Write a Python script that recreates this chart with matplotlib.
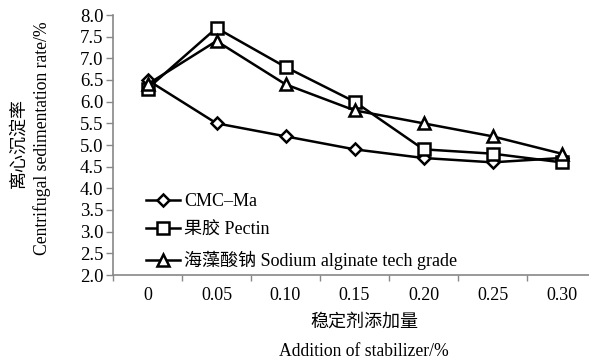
import matplotlib
matplotlib.use("Agg")
import matplotlib.pyplot as plt

# Stabilizer addition levels (%) and centrifugal sedimentation rate (%)
categories = ["0", "0.05", "0.10", "0.15", "0.20", "0.25", "0.30"]
cmc = [6.5, 5.5, 5.2, 4.9, 4.7, 4.6, 4.7]
pectin = [6.3, 7.7, 6.8, 6.0, 4.9, 4.8, 4.6]
alginate = [6.4, 7.4, 6.4, 5.8, 5.5, 5.2, 4.8]
series_labels = ["CMC–Ma", "果胶 Pectin", "海藻酸钠 Sodium alginate tech grade"]
yticks = [2.0, 2.5, 3.0, 3.5, 4.0, 4.5, 5.0, 5.5, 6.0, 6.5, 7.0, 7.5, 8.0]

FAM = ["Liberation Serif", "Noto Sans CJK SC"]
plt.rcParams["font.family"] = FAM

W, H = 589, 359
fig = plt.figure(figsize=(W / 100, H / 100), dpi=100)
left, right, bottom, top = 113, 596, 275, 15
ax = fig.add_axes([left / W, 1 - bottom / H, (right - left) / W, (bottom - top) / H])

x = list(range(len(categories)))
style = dict(color="black", lw=1.8, mfc="white", mec="black", mew=1.8)
ax.plot(x, cmc, marker="D", ms=6.5, label=series_labels[0], **style)
ax.plot(x, pectin, marker="s", ms=8.5, label=series_labels[1], **style)
ax.plot(x, alginate, marker="^", ms=9, label=series_labels[2], **style)

ax.set_xlim(-0.5, len(categories) - 0.5)
ax.set_ylim(2.0, 8.0)
ax.set_yticks(yticks)
ax.set_yticklabels([f"{v:.1f}" for v in yticks])
ax.set_xticks(x)
ax.set_xticklabels(categories)
ax.set_xticks([i - 0.5 for i in range(len(categories) + 1)], minor=True)
ax.tick_params(axis="x", which="major", length=0, pad=9, labelsize=13)
ax.tick_params(axis="x", which="minor", length=4, width=1, color="#888888", direction="out")
ax.tick_params(axis="y", length=5, width=1, color="#888888", labelsize=13.5, pad=2)

for s in ("top", "right"):
    ax.spines[s].set_visible(False)
for s in ("left", "bottom"):
    ax.spines[s].set_color("#888888")
    ax.spines[s].set_linewidth(1.2)

leg = ax.legend(loc="upper left", bbox_to_anchor=(0.068, 0.316), frameon=False,
                fontsize=13, handlelength=1.9, handletextpad=0.2,
                labelspacing=0.66, borderaxespad=0, borderpad=0)

fig.text(364 / W, 1 - 322 / H, "稳定剂添加量", ha="center", va="center",
         fontsize=13, family=FAM)
fig.text(364 / W, 1 - 352 / H, "Addition of stabilizer/%", ha="center", va="center",
         fontsize=12.7, family=FAM)
fig.text(19 / W, 1 - 143 / H, "离心沉淀率", rotation=90, ha="center", va="center",
         fontsize=13, family=FAM)
fig.text(42 / W, 1 - 138 / H, "Centrifugal sedimentation rate/%", rotation=90,
         ha="center", va="center", fontsize=12.7, family=FAM)

fig.savefig("out.png", dpi=100)
